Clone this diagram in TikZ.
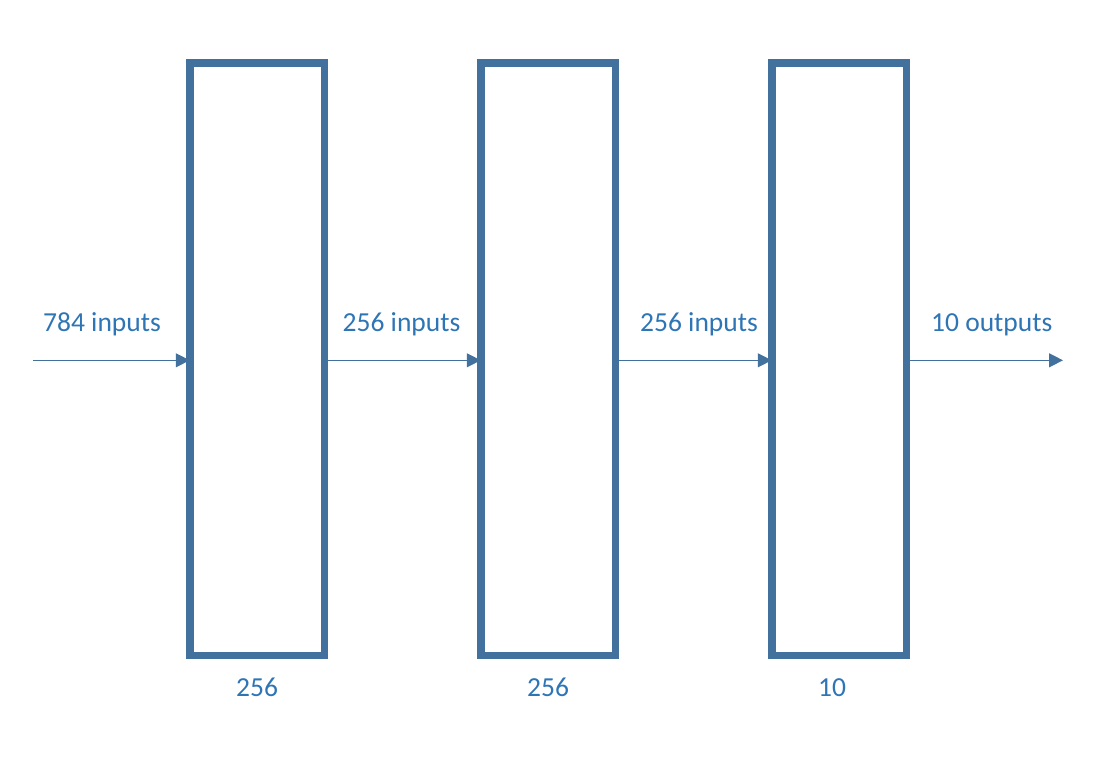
\documentclass[tikz,border=0pt]{standalone}
\usepackage{fontspec}
\setmainfont{Carlito}
\usetikzlibrary{arrows.meta}
\definecolor{boxblue}{HTML}{41719C}
\definecolor{textblue}{HTML}{2E75B6}
\tikzset{
  layerbox/.style={draw=boxblue, line width=7.5pt, minimum width=134.5pt, minimum height=592.5pt, outer sep=0pt, inner sep=0pt},
  flow/.style={draw=boxblue, line width=1.3pt, -{Triangle[length=14pt,width=14pt]}},
  lbl/.style={text=textblue, font=\fontsize{27.5pt}{30pt}\selectfont, inner sep=0pt, anchor=base west}
}
\begin{document}
\begin{tikzpicture}[x=1pt,y=-1pt]
\useasboundingbox (0,0) rectangle (1111,766);
\coordinate (in) at (33,360.3);
\coordinate (out) at (1063,360.3);
\node[layerbox] (b1) at (257,359) {};
\node[layerbox] (b2) at (548,359) {};
\node[layerbox] (b3) at (839,359) {};
\draw[flow] (in) -- (in -| b1.west);
\draw[flow] (b1.east |- in) -- (in -| b2.west);
\draw[flow] (b2.east |- in) -- (in -| b3.west);
\draw[flow] (b3.east |- in) -- (out);
\node[layerbox] at (b1) {};
\node[layerbox] at (b2) {};
\node[layerbox] at (b3) {};
\node[lbl] (t1) at (43,331.5) {784 inputs};
\node[lbl] (t2) at (342.5,331.5) {256 inputs};
\node[lbl] (t3) at (640,331.5) {256 inputs};
\node[lbl] (t4) at (931,331.5) {10 outputs};
\node[lbl] (n1) at (236,696) {256};
\node[lbl] (n2) at (527,696) {256};
\node[lbl] (n3) at (818,696) {10};
\end{tikzpicture}
\end{document}
